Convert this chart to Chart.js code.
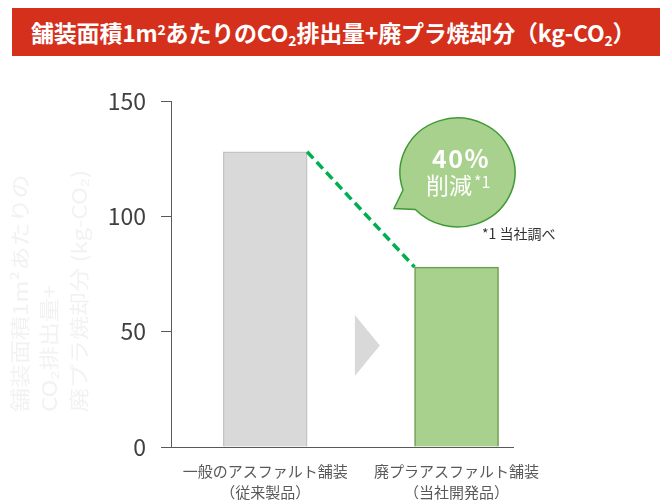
<!DOCTYPE html>
<html>
<head>
<meta charset="utf-8">
<script src="https://cdn.jsdelivr.net/npm/chart.js@4"></script>
<style>
  html, body { margin: 0; padding: 0; background: #fff; }
  #wrap { position: relative; width: 667px; height: 500px; }
  #banner {
    position: absolute; left: 12px; top: 8px; width: 648px; height: 48px;
    background: #d4301c; color: #fff;
    font: bold 23px "Noto Sans CJK JP", sans-serif;
    line-height: 48px; box-sizing: border-box; padding-left: 19px;
    white-space: nowrap; letter-spacing: -0.2px;
  }
  #banner sub { font-size: 14px; vertical-align: -4px; line-height: 0; }
  #banner sup { font-size: 14px; vertical-align: 7px; line-height: 0; }
  canvas { position: absolute; left: 0; top: 0; }
</style>
</head>
<body>
<div id="wrap">
  <canvas id="chart" width="667" height="500"></canvas>
  <div id="banner">舗装面積1m<sup>2</sup>あたりのCO<sub>2</sub>排出量+廃プラ焼却分（kg-CO<sub>2</sub>）</div>
</div>
<script>
// categories (x positions 0 and 1 on a linear axis)
const CATEGORIES = [
  ['一般のアスファルト舗装', '（従来製品）'],
  ['廃プラアスファルト舗装', '（当社開発品）'],
];
const VALUES = [128, 78];
const BAR_COLORS = ['#d9d9d9', '#a9d18e'];
const BAR_BORDERS = ['#c4c4c4', '#6b9b4c'];
const Y_TICKS = [0, 50, 100, 150];
const Y_TITLE = ['舗装面積1m²あたりの', 'CO₂排出量+', '廃プラ焼却分 (kg-CO₂)'];

const FONT = '"Noto Sans CJK JP", sans-serif';

// faint rotated axis title, dashed connector, grey arrow and speech bubble
const decor = {
  id: 'decor',
  beforeDatasetsDraw(chart) {
    const ctx = chart.ctx;
    ctx.save();
    ctx.fillStyle = '#f2f2f2';
    ctx.font = '24px ' + FONT;
    ctx.textAlign = 'left';
    ctx.textBaseline = 'middle';
    Y_TITLE.forEach((line, i) => {
      ctx.save();
      ctx.translate(20 + i * 29.5, 412);
      ctx.rotate(-Math.PI / 2);
      ctx.scale(1, 0.85);
      ctx.fillText(line, 0, 0);
      ctx.restore();
    });
    ctx.restore();
  },
  afterDatasetsDraw(chart) {
    const ctx = chart.ctx;
    const meta = chart.getDatasetMeta(0);
    const b1 = meta.data[0], b2 = meta.data[1];
    const { x, y } = chart.scales;

    // dashed green line between bar tops
    ctx.save();
    ctx.strokeStyle = '#00b050';
    ctx.lineWidth = 3.5;
    ctx.setLineDash([9, 5]);
    ctx.beginPath();
    ctx.moveTo(b1.x + b1.width / 2, b1.y);
    ctx.lineTo(b2.x - b2.width / 2, b2.y);
    ctx.stroke();
    ctx.restore();

    // grey triangle between bars
    const mx = x.getPixelForValue(0.5);
    const my = y.getPixelForValue(44);
    ctx.save();
    ctx.fillStyle = '#d9d9d9';
    ctx.beginPath();
    ctx.moveTo(mx - 6, my - 30.5);
    ctx.lineTo(mx + 19, my);
    ctx.lineTo(mx - 6, my + 30.5);
    ctx.closePath();
    ctx.fill();
    ctx.restore();

    // speech bubble
    const cx = 457.5, cy = 172.5, rx = 57.5, ry = 54.5;
    ctx.save();
    ctx.fillStyle = '#a9d18e';
    ctx.strokeStyle = '#3f9a35';
    ctx.lineWidth = 1.5;
    ctx.beginPath();
    const a1 = Math.atan2((190 - cy) / ry, (403 - cx) / rx);
    const a2 = Math.atan2((209 - cy) / ry, (416 - cx) / rx);
    ctx.ellipse(cx, cy, rx, ry, 0, a1, a2, false);
    ctx.lineTo(394, 208.5);
    ctx.closePath();
    ctx.fill();
    ctx.stroke();

    ctx.fillStyle = '#fff';
    ctx.textAlign = 'center';
    ctx.textBaseline = 'middle';
    ctx.font = 'bold 25px ' + FONT;
    ctx.letterSpacing = '1.5px';
    ctx.fillText('40%', 461, 158);
    ctx.letterSpacing = '0px';
    ctx.font = '23px ' + FONT;
    ctx.textAlign = 'left';
    ctx.fillText('削減', 426, 185);
    ctx.font = '16px ' + FONT;
    ctx.fillText('*1', 474, 182);

    ctx.fillStyle = '#333';
    ctx.font = '14px ' + FONT;
    ctx.fillText('*1 当社調べ', 482, 234);
    ctx.restore();
  },
};

new Chart(document.getElementById('chart'), {
  type: 'bar',
  data: {
    datasets: [{
      data: VALUES.map((v, i) => ({ x: i, y: v })),
      backgroundColor: BAR_COLORS,
      borderColor: BAR_BORDERS,
      borderWidth: 1.5,
      barThickness: 84,
    }],
  },
  options: {
    responsive: false,
    animation: false,
    layout: { padding: { left: 0, top: 101, right: 154, bottom: 0 } },
    plugins: { legend: { display: false }, tooltip: { enabled: false } },
    scales: {
      x: {
        type: 'linear',
        offset: false,
        min: -0.492,
        max: 1.295,
        grid: { display: false, offset: false },
        border: { display: true, color: '#595959', width: 1 },
        afterBuildTicks: (s) => { s.ticks = CATEGORIES.map((_, i) => ({ value: i })); },
        afterFit: (s) => { s.height = 53; },
        ticks: {
          autoSkip: false,
          maxRotation: 0,
          padding: 6,
          color: '#595959',
          font: { family: FONT, size: 15, lineHeight: 1.4 },
          callback: (v) => CATEGORIES[v],
        },
      },
      y: {
        min: 0,
        max: 150,
        afterBuildTicks: (s) => { s.ticks = Y_TICKS.map((v) => ({ value: v })); },
        afterFit: (s) => { s.width = 171; },
        grid: { drawOnChartArea: false, tickLength: 10, color: '#595959' },
        border: { display: true, color: '#595959', width: 1 },
        ticks: {
          padding: 15,
          color: '#404040',
          font: { family: FONT, size: 23 },
        },
      },
    },
  },
  plugins: [decor],
});
</script>
</body>
</html>
